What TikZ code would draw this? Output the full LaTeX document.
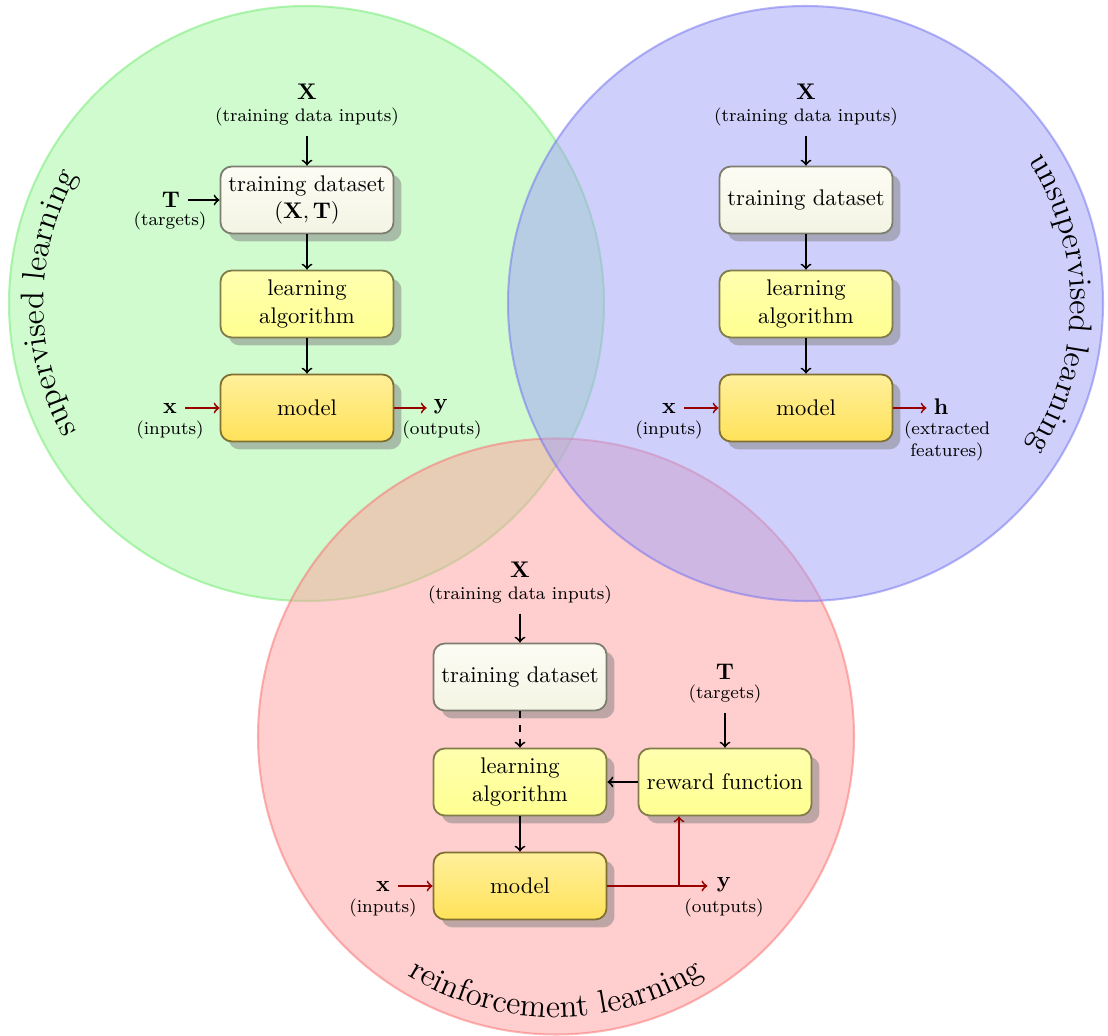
\documentclass[tikz,border=0pt]{standalone}
\usetikzlibrary{shadows,decorations.text,calc}
\definecolor{cg}{RGB}{161,249,161}
\definecolor{cgd}{RGB}{110,235,110}
\definecolor{cb}{RGB}{161,161,249}
\definecolor{cbd}{RGB}{110,110,240}
\definecolor{cr}{RGB}{255,159,159}
\definecolor{crd}{RGB}{250,110,110}
\definecolor{dstop}{RGB}{252,252,244}
\definecolor{dsbot}{RGB}{244,244,228}
\definecolor{dsdraw}{RGB}{125,125,112}
\definecolor{lrtop}{RGB}{255,255,175}
\definecolor{lrbot}{RGB}{255,255,145}
\definecolor{lrdraw}{RGB}{128,125,75}
\definecolor{mdtop}{RGB}{255,240,155}
\definecolor{mdbot}{RGB}{255,226,90}
\definecolor{mddraw}{RGB}{130,112,50}
\definecolor{darkred}{RGB}{153,0,0}
\begin{document}
\begin{tikzpicture}[x=0.442pt,y=0.442pt,
  mybox/.style={draw, rounded corners=5pt, line width=0.8pt, minimum width=76.5pt,
    minimum height=29.6pt, align=center, inner sep=2pt,
    drop shadow={shadow xshift=3.5pt, shadow yshift=-3.5pt, opacity=0.5, fill=black!50}},
  dsbox/.style={mybox, draw=dsdraw, top color=dstop, bottom color=dsbot},
  lrbox/.style={mybox, draw=lrdraw, top color=lrtop, bottom color=lrbot},
  mdbox/.style={mybox, draw=mddraw, top color=mdtop, bottom color=mdbot},
  arr/.style={->, line width=0.8pt},
  rarr/.style={->, line width=0.8pt, draw=darkred},
  lbl/.style={inner sep=1pt},
  capt/.style={font=\footnotesize, inner sep=1pt, align=center},
  arclabel/.style={decorate, decoration={text along path, text align=center}}
]
\fill[white] (0,0) rectangle (1108,-1036);
\useasboundingbox (0,0) rectangle (1108,-1036);

% circles
\path[fill=cg, draw=cgd, opacity=0.5, line width=0.9pt] (306.5,-303.5) circle[radius=297.5];
\path[fill=cr, draw=crd, opacity=0.5, line width=0.9pt] (556,-736.5) circle[radius=298];
\path[fill=cb, draw=cbd, opacity=0.5, line width=0.9pt] (805.5,-303.5) circle[radius=297.5];

% circle labels
\path[arclabel, decoration={text={|\Large|supervised learning}}, shift={(306.5,-303.5)}]
  (215:263) arc[start angle=215, end angle=145, radius=263];
\path[arclabel, decoration={text={|\Large|unsupervised learning}}, shift={(805.5,-303.5)}]
  (35:265) arc[start angle=35, end angle=-35, radius=265];
\path[arclabel, decoration={text={|\Large|reinforcement learning}}, shift={(556,-736.5)}]
  (235:281) arc[start angle=235, end angle=305, radius=281];

% ---------- supervised ----------
\node[dsbox] (sds) at (307,-200) {training dataset\\$(\mathbf{X},\mathbf{T})$};
\node[lrbox] (slr) at (307,-304) {learning\\algorithm};
\node[mdbox] (smd) at (307,-408) {model};
\node[lbl] (sX) at (307,-92) {$\mathbf{X}$};
\node[capt] (sXc) at (307,-117) {(training data inputs)};
\node[lbl] (sT) at (171,-200) {$\mathbf{T}$};
\node[capt] (sTc) at (170,-221) {(targets)};
\node[lbl] (sx) at (170,-408) {$\mathbf{x}$};
\node[capt] (sxc) at (170,-430) {(inputs)};
\node[lbl] (sy) at (441,-407) {$\mathbf{y}$};
\node[capt] (syc) at (442,-430) {(outputs)};
\draw[arr, shorten <=3pt] (sXc.south) -- (sds.north);
\draw[arr, shorten <=2.5pt] (sT.east |- sds.west) -- (sds.west);
\draw[arr] (sds.south) -- (slr.north);
\draw[arr] (slr.south) -- (smd.north);
\draw[rarr, shorten <=2.5pt] (sx.east |- smd.west) -- (smd.west);
\draw[rarr, shorten >=2pt] (smd.east) -- (smd.east -| sy.west);

% ---------- unsupervised ----------
\node[dsbox] (uds) at (806,-200) {training dataset};
\node[lrbox] (ulr) at (806,-304) {learning\\algorithm};
\node[mdbox] (umd) at (806,-408) {model};
\node[lbl] (uX) at (806,-92) {$\mathbf{X}$};
\node[capt] (uXc) at (806,-117) {(training data inputs)};
\node[lbl] (ux) at (669,-408) {$\mathbf{x}$};
\node[capt] (uxc) at (669,-430) {(inputs)};
\node[lbl] (uh) at (941,-407) {$\mathbf{h}$};
\node[capt] (uhc) at (947,-441) {(extracted\\features)};
\draw[arr, shorten <=3pt] (uXc.south) -- (uds.north);
\draw[arr] (uds.south) -- (ulr.north);
\draw[arr] (ulr.south) -- (umd.north);
\draw[rarr, shorten <=2.5pt] (ux.east |- umd.west) -- (umd.west);
\draw[rarr, shorten >=2pt] (umd.east) -- (umd.east -| uh.west);

% ---------- reinforcement ----------
\node[dsbox] (rds) at (520,-677) {training dataset};
\node[lrbox] (rlr) at (520,-782) {learning\\algorithm};
\node[mdbox] (rmd) at (520,-886) {model};
\node[lrbox] (rrw) at (725,-782) {reward function};
\node[lbl] (rX) at (520,-570) {$\mathbf{X}$};
\node[capt] (rXc) at (520,-595) {(training data inputs)};
\node[lbl] (rT) at (725,-672) {$\mathbf{T}$};
\node[capt] (rTc) at (725,-694) {(targets)};
\node[lbl] (rx) at (383,-886) {$\mathbf{x}$};
\node[capt] (rxc) at (383,-908) {(inputs)};
\node[lbl] (ry) at (724,-885) {$\mathbf{y}$};
\node[capt] (ryc) at (724,-908) {(outputs)};
\coordinate (br) at (679,-886);
\draw[arr, shorten <=3pt] (rXc.south) -- (rds.north);
\draw[arr, dashed] (rds.south) -- (rlr.north);
\draw[arr] (rlr.south) -- (rmd.north);
\draw[arr, shorten <=3pt] (rTc.south) -- (rrw.north);
\draw[arr] (rrw.west) -- (rlr.east);
\draw[rarr, shorten <=2.5pt] (rx.east |- rmd.west) -- (rmd.west);
\draw[rarr, shorten >=3pt] (rmd.east) -- (rmd.east -| ry.west);
\draw[rarr] (br) -- (br |- rrw.south);
\end{tikzpicture}
\end{document}
